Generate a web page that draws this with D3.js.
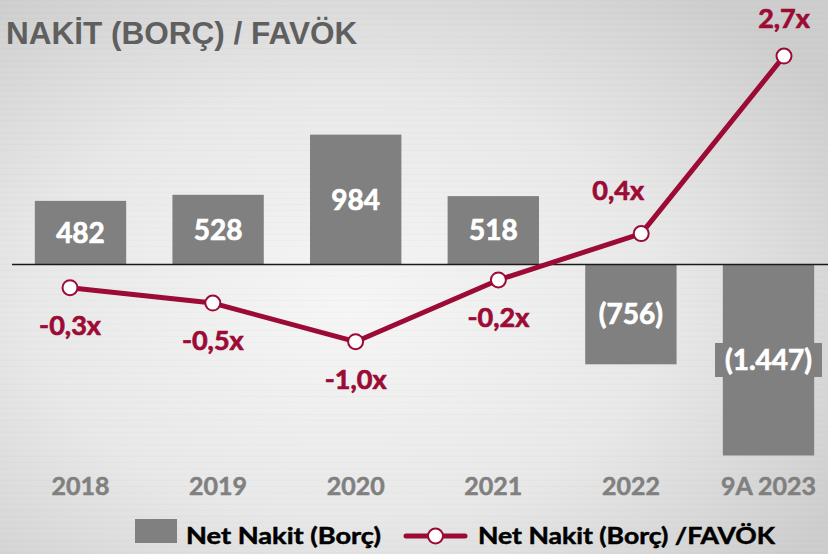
<!DOCTYPE html>
<html>
<head>
<meta charset="utf-8">
<script src="https://cdn.jsdelivr.net/npm/d3@7/dist/d3.min.js"></script>
<style>
  html, body { margin: 0; padding: 0; background: #e4e4e4; }
  svg { display: block; }
</style>
</head>
<body>
<svg id="chart" width="828" height="554"></svg>
<script>
// ---- Data ----
const categories = ["2018", "2019", "2020", "2021", "2022", "9A 2023"];
const netCash = [482, 528, 984, 518, -756, -1447];
const netCashLabels = ["482", "528", "984", "518", "(756)", "(1.447)"];
const ratio = [-0.3, -0.5, -1.0, -0.2, 0.4, 2.7];
const ratioLabels = ["-0,3x", "-0,5x", "-1,0x", "-0,2x", "0,4x", "2,7x"];
const titleText = "NAKİT (BORÇ) / FAVÖK";
const legendBar = "Net Nakit (Borç)";
const legendLine = "Net Nakit (Borç) /FAVÖK";

// ---- Setup ----
const W = 828, H = 554;
const svg = d3.select("#chart");
const BAR = "#808080", LINE = "#9C0B35";
const FONT = "Lato, 'Open Sans', sans-serif";

// background: brushed metal
const defs = svg.append("defs");
const rg = defs.append("radialGradient").attr("id", "bg")
  .attr("cx", "42%").attr("cy", "55%").attr("r", "70%");
rg.append("stop").attr("offset", "0%").attr("stop-color", "#f6f6f6");
rg.append("stop").attr("offset", "55%").attr("stop-color", "#e8e8e8");
rg.append("stop").attr("offset", "100%").attr("stop-color", "#cdcdcd");
svg.append("rect").attr("width", W).attr("height", H).attr("fill", "url(#bg)");
// subtle horizontal streaks (deterministic texture)
const streaks = svg.append("g");
for (let yy = 0; yy < H; yy += 3) {
  const o = 0.03 + 0.03 * Math.abs(Math.sin(yy * 12.9898));
  streaks.append("rect").attr("x", 0).attr("y", yy).attr("width", W).attr("height", 1)
    .attr("fill", (yy % 2) ? "#ffffff" : "#b0b0b0").attr("opacity", o);
}

// ---- Scales ----
const x = d3.scaleBand().domain(categories)
  .range([11.7, 837.3]).paddingInner(0.336).paddingOuter(0.168);
const xLine = d3.scalePoint().domain(categories).range([70, 784]);
const y1 = d3.scaleLinear().domain([-2000, 1600]).range([528.5, 53.3]);
const y2 = d3.scaleLinear().domain([-3, 3]).range([496.1, 32.9]);

// ---- Title ----
svg.append("text").attr("x", 6).attr("y", 44)
  .attr("font-family", "'Liberation Sans', Arial, sans-serif")
  .attr("font-weight", "bold").attr("font-size", 31.5)
  .attr("fill", "#5f5f5f").text(titleText);

// ---- Bars ----
const data = categories.map((c, i) => ({ c, v: netCash[i], lab: netCashLabels[i], r: ratio[i], rl: ratioLabels[i] }));
svg.append("g").selectAll("rect").data(data).join("rect")
  .attr("x", d => x(d.c))
  .attr("width", x.bandwidth())
  .attr("y", d => Math.min(y1(0), y1(d.v)))
  .attr("height", d => Math.abs(y1(d.v) - y1(0)))
  .attr("fill", BAR);

// zero line
svg.append("line").attr("x1", 12).attr("x2", W)
  .attr("y1", y1(0)).attr("y2", y1(0))
  .attr("stroke", "#1a1a1a").attr("stroke-width", 1.3);

// bar labels with background box
const bl = svg.append("g");
data.forEach(d => {
  const cx = x(d.c) + x.bandwidth() / 2;
  const cy = (y1(0) + y1(d.v)) / 2;
  const g = bl.append("g");
  const t = g.append("text").attr("x", cx).attr("y", cy + 10)
    .attr("text-anchor", "middle")
    .attr("font-family", FONT)
    .attr("font-weight", "bold").attr("font-size", 28)
    .attr("fill", "#ffffff").attr("stroke", "#ffffff").attr("stroke-width", 0.7)
    .text(d.lab);
  const bb = t.node().getBBox();
  g.insert("rect", "text")
    .attr("x", bb.x - 10).attr("width", bb.width + 20)
    .attr("y", cy - 17).attr("height", 34)
    .attr("fill", BAR);
});

// ---- Line ----
const line = d3.line().x(d => xLine(d.c)).y(d => y2(d.r));
svg.append("path").datum(data).attr("d", line)
  .attr("fill", "none").attr("stroke", LINE).attr("stroke-width", 5)
  .attr("stroke-linejoin", "round");
svg.append("g").selectAll("circle").data(data).join("circle")
  .attr("cx", d => xLine(d.c)).attr("cy", d => y2(d.r)).attr("r", 7.5)
  .attr("fill", "#ffffff").attr("stroke", LINE).attr("stroke-width", 2);

// line labels
svg.append("g").selectAll("text").data(data).join("text")
  .attr("x", (d, i) => xLine(d.c) + (d.r > 0 && i < data.length - 1 ? -23 : 0))
  .attr("y", (d, i) => y2(d.r) + (d.r < 0 ? 47 : (i === data.length - 1 ? -28 : -34)))
  .attr("text-anchor", "middle")
  .attr("font-family", FONT)
  .attr("font-weight", "bold").attr("font-size", 27)
  .attr("fill", LINE).attr("stroke", LINE).attr("stroke-width", 0.7)
  .text(d => d.rl);

// ---- X axis ----
const xAxis = d3.axisBottom(x).tickSize(0).tickPadding(0);
const ax = svg.append("g").attr("transform", "translate(0,477)").call(xAxis);
ax.select(".domain").remove();
ax.selectAll("text")
  .attr("dy", "0.71em")
  .attr("font-family", FONT)
  .attr("font-weight", "bold").attr("font-size", 25)
  .attr("fill", "#808080").attr("stroke", "#808080").attr("stroke-width", 0.5);

// ---- Legend ----
const lg = svg.append("g");
lg.append("rect").attr("x", 135).attr("y", 519).attr("width", 42).attr("height", 24).attr("fill", BAR);
lg.append("text").attr("x", 186).attr("y", 544)
  .attr("font-family", FONT)
  .attr("font-weight", "bold").attr("font-size", 23)
  .attr("textLength", 195).attr("lengthAdjust", "spacingAndGlyphs")
  .attr("fill", "#000").attr("stroke", "#000").attr("stroke-width", 0.5)
  .text(legendBar);
lg.append("line").attr("x1", 406).attr("x2", 465).attr("y1", 536).attr("y2", 536)
  .attr("stroke", LINE).attr("stroke-width", 5).attr("stroke-linecap", "round");
lg.append("circle").attr("cx", 435.5).attr("cy", 536).attr("r", 7.5)
  .attr("fill", "#fff").attr("stroke", LINE).attr("stroke-width", 2);
lg.append("text").attr("x", 478).attr("y", 544)
  .attr("font-family", FONT)
  .attr("font-weight", "bold").attr("font-size", 23)
  .attr("textLength", 297).attr("lengthAdjust", "spacingAndGlyphs")
  .attr("fill", "#000").attr("stroke", "#000").attr("stroke-width", 0.5)
  .text(legendLine);
</script>
</body>
</html>
